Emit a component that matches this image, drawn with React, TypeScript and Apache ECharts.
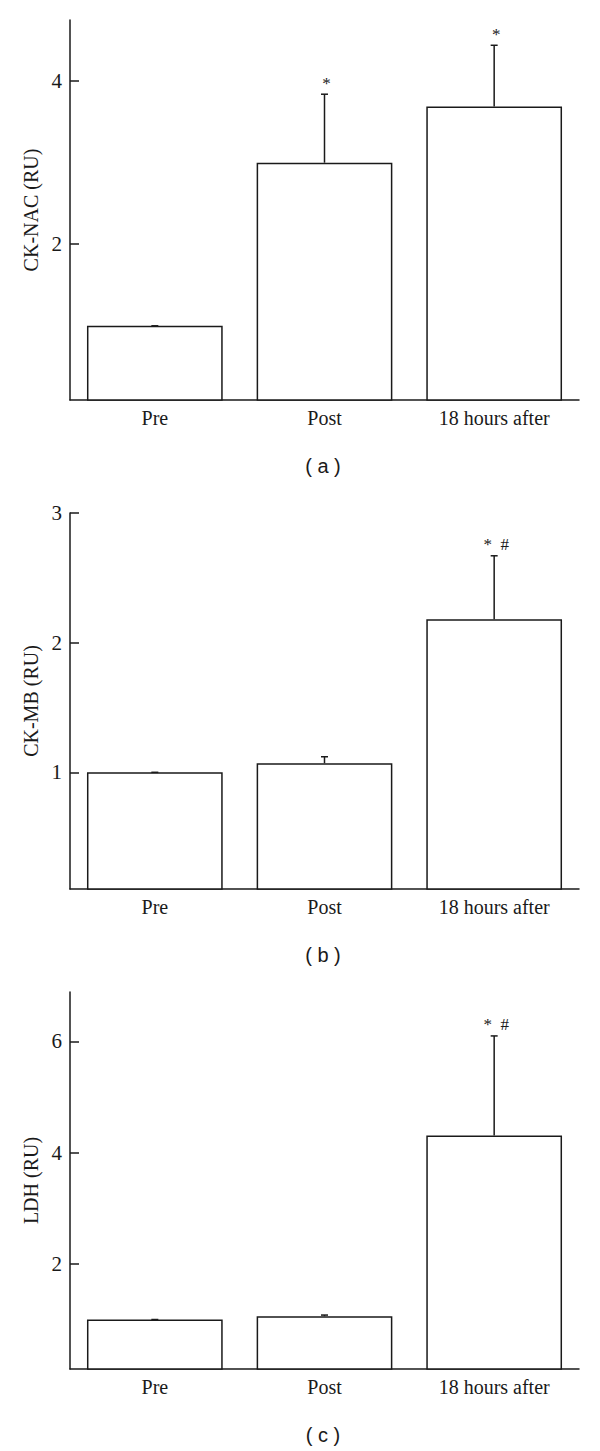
import React, { useEffect, useRef } from "react";
import * as echarts from "echarts";

const categories = ["Pre", "Post", "18 hours after"];

const ckNacMean = [1.0, 3.0, 3.69];
const ckNacErr = [0, 0.84, 0.75];
const ckNacMarks = ["", "*", "*"];

const ckMbMean = [1.0, 1.07, 2.18];
const ckMbErr = [0, 0.05, 0.49];
const ckMbMarks = ["", "", "*  #"];

const ldhMean = [1.0, 1.06, 4.31];
const ldhErr = [0, 0.02, 1.79];
const ldhMarks = ["", "", "*  #"];

const ckNacTicks = [2, 4];
const ckMbTicks = [1, 2, 3];
const ldhTicks = [2, 4, 6];

const panels = [
  { name: "CK-NAC (RU)", mean: ckNacMean, err: ckNacErr, marks: ckNacMarks, ticks: ckNacTicks, min: 0.09, max: 4.75, top: 20, height: 380, caption: "( a )", capY: 466 },
  { name: "CK-MB (RU)", mean: ckMbMean, err: ckMbErr, marks: ckMbMarks, ticks: ckMbTicks, min: 0.1, max: 3, top: 513, height: 376, caption: "( b )", capY: 955 },
  { name: "LDH (RU)", mean: ldhMean, err: ldhErr, marks: ldhMarks, ticks: ldhTicks, min: 0.11, max: 6.89, top: 992, height: 377, caption: "( c )", capY: 1435 },
];

const INK = "#1a1a1a";
const SERIF = "'Liberation Serif', 'DejaVu Serif', serif";
const SANS = "'Liberation Sans', Arial, sans-serif";

export default function App() {
  const ref = useRef<HTMLDivElement>(null);
  useEffect(() => {
    document.body.style.margin = "0";
    const chart = echarts.init(ref.current!, null, { renderer: "svg" });
    const grid: any[] = [];
    const xAxis: any[] = [];
    const yAxis: any[] = [];
    const series: any[] = [];
    const graphic: any[] = [];
    panels.forEach((p, i) => {
      grid.push({ left: 70, top: p.top, width: 509, height: p.height });
      xAxis.push({
        type: "category",
        gridIndex: i,
        data: categories,
        axisLine: { show: true, lineStyle: { color: INK, width: 1.5 } },
        axisTick: { show: false },
        axisLabel: { color: INK, fontFamily: SERIF, fontSize: 20, margin: 8 },
        splitLine: { show: false },
      });
      yAxis.push({
        type: "value",
        gridIndex: i,
        min: p.min,
        max: p.max,
        name: p.name,
        nameLocation: "middle",
        nameGap: 29,
        nameTextStyle: { color: INK, fontFamily: SERIF, fontSize: 20 },
        axisLine: { show: true, lineStyle: { color: INK, width: 1.5 } },
        axisTick: { show: true, inside: true, length: 9, lineStyle: { color: INK, width: 1.5 }, customValues: p.ticks },
        axisLabel: { color: INK, fontFamily: SERIF, fontSize: 21, margin: 8, customValues: p.ticks },
        splitLine: { show: false },
      });
      series.push({
        type: "bar",
        xAxisIndex: i,
        yAxisIndex: i,
        data: p.mean,
        barCategoryGap: "20%",
        itemStyle: { color: "#ffffff", borderColor: INK, borderWidth: 1.5 },
        silent: true,
      });
      const marks = p.marks;
      series.push({
        type: "custom",
        xAxisIndex: i,
        yAxisIndex: i,
        data: p.mean.map((m, k) => [k, m, p.err[k]]),
        encode: { x: 0, y: 1 },
        renderItem: (params: any, api: any) => {
          const x = api.value(0);
          const m = api.value(1);
          const e = api.value(2);
          const base = api.coord([x, m]);
          const top = api.coord([x, m + e]);
          const children: any[] = [
            { type: "line", shape: { x1: base[0], y1: base[1], x2: top[0], y2: top[1] }, style: { stroke: INK, lineWidth: 1.5 } },
            { type: "line", shape: { x1: top[0] - 3.5, y1: top[1], x2: top[0] + 3.5, y2: top[1] }, style: { stroke: INK, lineWidth: 1.5 } },
          ];
          const lbl = marks[params.dataIndex];
          if (lbl) {
            children.push({
              type: "text",
              x: top[0] + 2,
              y: top[1] - 11,
              style: { text: lbl, fill: INK, font: `17px ${SERIF}`, align: "center", verticalAlign: "middle" },
            });
          }
          return { type: "group", children };
        },
        silent: true,
        z: 5,
      });
      graphic.push({
        type: "text",
        x: 323,
        y: p.capY,
        style: { text: p.caption, fill: INK, font: `20px ${SANS}`, align: "center", verticalAlign: "middle" },
      });
    });
    chart.setOption({
      animation: false,
      backgroundColor: "#ffffff",
      grid,
      xAxis,
      yAxis,
      series,
      graphic,
    });
    return () => chart.dispose();
  }, []);
  return <div ref={ref} style={{ width: 600, height: 1451 }} />;
}
